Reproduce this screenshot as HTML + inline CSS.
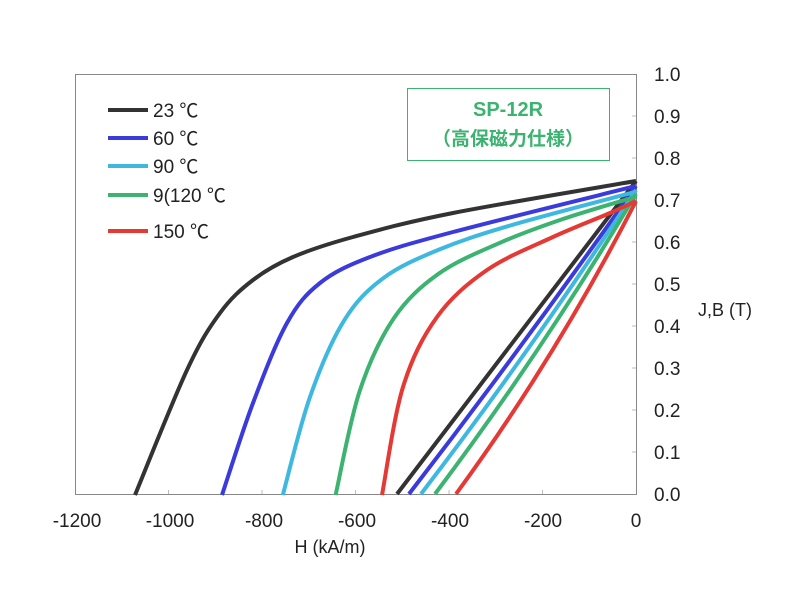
<!DOCTYPE html>
<html><head><meta charset="utf-8"><style>
body{margin:0;background:#fff}
svg text{font-family:"Liberation Sans","Noto Sans CJK JP",sans-serif;fill:#222}
</style></head><body>
<svg id="s" width="800" height="610" xmlns="http://www.w3.org/2000/svg">
<rect x="0" y="0" width="800" height="610" fill="#fff"/>
<rect x="75.5" y="74.5" width="561" height="420" fill="none" stroke="#888" stroke-width="1"/>
<g id="ticks" stroke="#bbb" stroke-width="1"></g>
<g font-size="19" text-anchor="start">
<text x="654" y="81">1.0</text><text x="654" y="123">0.9</text><text x="654" y="165">0.8</text>
<text x="654" y="207">0.7</text><text x="654" y="249">0.6</text><text x="654" y="291">0.5</text>
<text x="654" y="333">0.4</text><text x="654" y="375">0.3</text><text x="654" y="417">0.2</text>
<text x="654" y="459">0.1</text><text x="654" y="501">0.0</text>
</g>
<g font-size="19" text-anchor="middle">
<text x="77" y="527">-1200</text><text x="170" y="527">-1000</text><text x="264" y="527">-800</text>
<text x="357" y="527">-600</text><text x="450" y="527">-400</text><text x="543" y="527">-200</text>
<text x="636" y="527">0</text>
</g>
<text x="330" y="553" font-size="18" text-anchor="middle">H (kA/m)</text>
<text x="698" y="316" font-size="18">J,B (T)</text>
<rect x="407.5" y="88.5" width="202" height="72" fill="#fff" stroke="#3cb371"/>
<text x="508" y="116" font-size="20" font-weight="bold" text-anchor="middle" style="fill:#3cb371">SP-12R</text>
<text x="508" y="145" font-size="19" font-weight="bold" text-anchor="middle" style="fill:#3cb371">（高保磁力仕様）</text>
<g id="curves" fill="none" stroke-width="4" stroke-linejoin="round"></g>
<g font-size="19">
<line x1="108" y1="110" x2="148" y2="110" stroke="#333" stroke-width="4"/><text x="153" y="117">23 ℃</text>
<line x1="108" y1="138" x2="148" y2="138" stroke="#3b3bdc" stroke-width="4"/><text x="153" y="145">60 ℃</text>
<line x1="108" y1="166" x2="148" y2="166" stroke="#3fb8e0" stroke-width="4"/><text x="153" y="173">90 ℃</text>
<line x1="108" y1="195" x2="148" y2="195" stroke="#3cb371" stroke-width="4"/><text x="153" y="202">9(120 ℃</text>
<line x1="108" y1="231" x2="148" y2="231" stroke="#e53935" stroke-width="4"/><text x="153" y="238">150 ℃</text>
</g>
</svg>
<script>
function cr(p){var s="M"+p[0][0]+","+p[0][1];for(var i=0;i<p.length-1;i++){var a=p[i-1]||p[i],b=p[i],c=p[i+1],d=p[i+2]||c;
s+=" C"+(b[0]+(c[0]-a[0])/6)+","+(b[1]+(c[1]-a[1])/6)+" "+(c[0]-(d[0]-b[0])/6)+","+(c[1]-(d[1]-b[1])/6)+" "+c[0]+","+c[1];}return s;}
var black=[[135,495],[187,370],[220,313],[253,280],[293,257],[353,237],[453,213],[636,181]];
var blue=[[222,495],[253,403],[287,323],[320,283],[370,257],[453,232],[636,186]];
var red=[[382,495],[403,387],[437,317],[487,270],[553,237],[610,213],[636,201]];
function mix(w){return blue.map(function(p,i){return[p[0]+(red[i][0]-p[0])*w,p[1]+(red[i][1]-p[1])*w];});}
var J=[["#333",black],["#3b3bdc",blue],["#3fb8e0",mix(0.38)],["#3cb371",mix(0.71)],["#e53935",red]];
var B=[[397,181,0],[409,186,3],[421,190,5],[435,194,7],[456,201,10]];
var h="";
J.forEach(function(c,i){h+='<path stroke="'+c[0]+'" d="'+cr(c[1])+'"/>';
var b=B[i],mx=(b[0]+636)/2,my=(494+b[1])/2;
h+='<path stroke="'+c[0]+'" d="M'+b[0]+',494 Q'+(mx+b[2])+','+(my+b[2])+' 636,'+b[1]+'"/>';});
document.getElementById("curves").innerHTML=h;
var t="";for(var k=1;k<10;k++){var y=494-42*k;t+='<line x1="632" y1="'+y+'" x2="636" y2="'+y+'"/>';}
for(var k=1;k<6;k++){var x=75+93.5*k;t+='<line x1="'+x+'" y1="490" x2="'+x+'" y2="494"/>';}
document.getElementById("ticks").innerHTML=t;
</script>
</body></html>
